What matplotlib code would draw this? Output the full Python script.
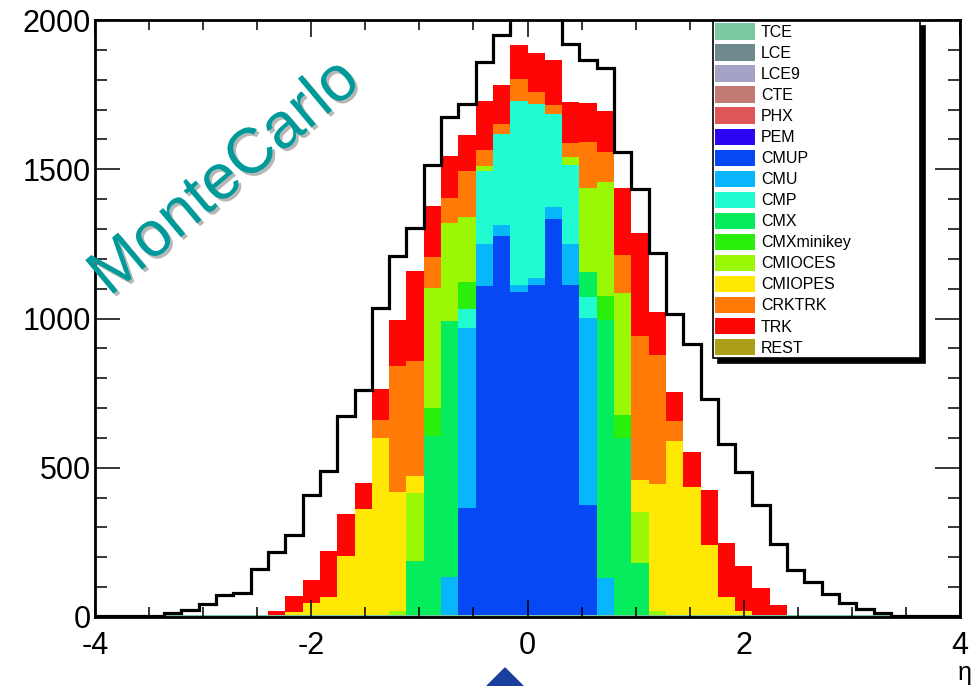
import numpy as np
import matplotlib
matplotlib.use("Agg")
import matplotlib.pyplot as plt
import matplotlib.patheffects as pe
from matplotlib.patches import Patch, Polygon
from matplotlib.ticker import MultipleLocator

plt.rcParams['font.family'] = ['Liberation Sans', 'DejaVu Sans']
plt.rcParams['axes.unicode_minus'] = False

# 50 bins in eta, -4 .. 4
eta_lo, eta_hi, n_bins = -4.0, 4.0, 50

# black outline (all candidates)
total = [2, 2, 3, 4, 12, 25, 44, 74, 79, 161,
         218, 276, 408, 488, 673, 759, 1035, 1208, 1304, 1513,
         1675, 1720, 1860, 1950, 2080, 2120, 2090, 1920, 1866, 1838,
         1558, 1433, 1218, 1014, 915, 730, 580, 487, 374, 243,
         158, 118, 78, 46, 26, 13, 4, 3, 2, 2]

# stacked categories, bottom to top
tce = [0, 0, 0, 0, 6, 6, 6, 6, 6, 6,
       6, 6, 6, 6, 6, 6, 6, 6, 6, 6,
       6, 6, 6, 6, 6, 6, 6, 6, 6, 6,
       6, 6, 6, 6, 6, 6, 6, 6, 6, 6,
       6, 6, 6, 6, 6, 6, 0, 0, 0, 0]
cmup = [0, 0, 0, 0, 0, 0, 0, 0, 0, 0,
        0, 0, 0, 0, 0, 0, 0, 0, 0, 0,
        0, 359, 1102, 1269, 1084, 1105, 1328, 1105, 370, 0,
        0, 0, 0, 0, 0, 0, 0, 0, 0, 0,
        0, 0, 0, 0, 0, 0, 0, 0, 0, 0]
cmu = [0, 0, 0, 0, 0, 0, 0, 0, 0, 0,
       0, 0, 0, 0, 0, 0, 0, 0, 0, 0,
       128, 602, 141, 39, 23, 25, 40, 137, 625, 126,
       0, 0, 0, 0, 0, 0, 0, 0, 0, 0,
       0, 0, 0, 0, 0, 0, 0, 0, 0, 0]
cmp_ = [0, 0, 0, 0, 0, 0, 0, 0, 0, 0,
        0, 0, 0, 0, 0, 0, 0, 0, 0, 0,
        0, 65, 244, 304, 615, 581, 312, 267, 70, 0,
        0, 0, 0, 0, 0, 0, 0, 0, 0, 0,
        0, 0, 0, 0, 0, 0, 0, 0, 0, 0]
cmx = [0, 0, 0, 0, 0, 0, 0, 0, 0, 0,
       0, 0, 0, 0, 0, 0, 0, 0, 182, 600,
       859, 0, 0, 0, 0, 0, 0, 0, 85, 864,
       593, 174, 0, 0, 0, 0, 0, 0, 0, 0,
       0, 0, 0, 0, 0, 0, 0, 0, 0, 0]
cmxminikey = [0, 0, 0, 0, 0, 0, 0, 0, 0, 0,
              0, 0, 0, 0, 0, 0, 0, 0, 0, 93,
              0, 89, 0, 0, 0, 0, 0, 0, 0, 80,
              78, 0, 0, 0, 0, 0, 0, 0, 0, 0,
              0, 0, 0, 0, 0, 0, 0, 0, 0, 0]
cmioces = [0, 0, 0, 0, 0, 0, 0, 0, 0, 0,
           0, 0, 0, 0, 0, 0, 0, 15, 228, 403,
           327, 218, 19, 0, 0, 0, 0, 26, 282, 380,
           408, 173, 15, 0, 0, 0, 0, 0, 0, 0,
           0, 0, 0, 0, 0, 0, 0, 0, 0, 0]
cmiopes = [0, 0, 0, 0, 0, 0, 0, 0, 0, 0,
           0, 10, 40, 60, 197, 356, 595, 397, 58, 0,
           0, 0, 0, 0, 0, 0, 0, 0, 0, 0,
           0, 106, 423, 582, 430, 235, 60, 15, 0, 0,
           0, 0, 0, 0, 0, 0, 0, 0, 0, 0]
crktrk = [0, 0, 0, 0, 0, 0, 0, 0, 0, 0,
          0, 0, 0, 0, 0, 0, 59, 422, 385, 103,
          83, 154, 52, 33, 73, 42, 30, 47, 153, 101,
          128, 481, 434, 67, 0, 0, 0, 0, 0, 0,
          0, 0, 0, 0, 0, 0, 0, 0, 0, 0]
trk = [0, 0, 0, 0, 0, 0, 0, 0, 0, 0,
       15, 56, 77, 156, 141, 87, 105, 154, 301, 173,
       141, 122, 166, 131, 115, 131, 150, 138, 131, 139,
       223, 346, 145, 100, 118, 185, 182, 150, 90, 35,
       0, 0, 0, 0, 0, 0, 0, 0, 0, 0]

legend_names = ["TCE", "LCE", "LCE9", "CTE", "PHX", "PEM", "CMUP", "CMU", "CMP",
                "CMX", "CMXminikey", "CMIOCES", "CMIOPES", "CRKTRK", "TRK", "REST"]
legend_colors = ["#7cc8a2", "#6f8a8e", "#a3a3c6", "#c27a72", "#de5656", "#2a06f2",
                 "#0648f4", "#08b6fb", "#22fbd2", "#05ec5c", "#2aef0c", "#9af806",
                 "#ffe804", "#ff7a06", "#ff0606", "#aba018"]


def run():
    edges = np.linspace(eta_lo, eta_hi, n_bins + 1)
    stack = {"TCE": tce, "CMUP": cmup, "CMU": cmu, "CMP": cmp_, "CMX": cmx,
             "CMXminikey": cmxminikey, "CMIOCES": cmioces, "CMIOPES": cmiopes,
             "CRKTRK": crktrk, "TRK": trk}
    colors = dict(zip(legend_names, legend_colors))

    fig = plt.figure(figsize=(9.77, 6.86), dpi=100)
    ax = fig.add_axes([95 / 977, 69 / 686, 865 / 977, 597 / 686])

    bottom = np.zeros(n_bins)
    for name in legend_names:
        if name not in stack:
            continue
        vals = np.asarray(stack[name], dtype=float)
        ax.stairs(bottom + vals, edges, baseline=bottom.copy(), fill=True,
                  color=colors[name], lw=0)
        bottom += vals

    ax.stairs(total, edges, color="black", lw=2.3, baseline=None)

    ax.set_xlim(eta_lo, eta_hi)
    ax.set_ylim(0, 2000)
    ax.xaxis.set_major_locator(MultipleLocator(2))
    ax.xaxis.set_minor_locator(MultipleLocator(0.5))
    ax.yaxis.set_major_locator(MultipleLocator(500))
    ax.yaxis.set_minor_locator(MultipleLocator(100))
    ax.tick_params(axis="both", which="both", direction="in", top=True, right=True,
                   width=1.1, labelsize=22)
    ax.tick_params(axis="y", which="major", length=18, pad=3)
    ax.tick_params(axis="y", which="minor", length=8.5)
    ax.tick_params(axis="x", which="major", length=12, pad=10)
    ax.tick_params(axis="x", which="minor", length=7)
    for sp in ax.spines.values():
        sp.set_linewidth(2)

    handles = [Patch(facecolor=c, edgecolor="none", label=n)
               for n, c in zip(legend_names, legend_colors)]
    leg = ax.legend(handles=handles, loc="upper left",
                    bbox_to_anchor=(0.7145, 0.4305, 0.2395, 0.568), mode="expand",
                    fontsize=11.5, frameon=True, fancybox=False, framealpha=1,
                    edgecolor="black", borderpad=0.15, labelspacing=0.28,
                    handlelength=2.45, handleheight=1.2, handletextpad=0.4,
                    borderaxespad=0,
                    shadow={"ox": 3.5, "oy": -3.5, "facecolor": "black",
                            "edgecolor": "black", "alpha": 1})
    leg.get_frame().set_linewidth(1.2)

    fig.text(965 / 977, 1 - 673 / 686, "η", fontsize=18, ha="center", va="center")

    mc = fig.text(225 / 977, 1 - 178 / 686, "MonteCarlo", fontsize=46, color="#009a9a",
                  rotation=40, rotation_mode="anchor", ha="center", va="center")
    mc.set_path_effects([pe.SimplePatchShadow(offset=(2, -2), shadow_rgbFace="#999999",
                                              alpha=0.7), pe.Normal()])

    tri = Polygon([(487 / 977, 0), (523 / 977, 0), (505 / 977, 1 - 668 / 686)],
                  closed=True, transform=fig.transFigure, color="#1b3f9c")
    fig.patches.append(tri)

    fig.savefig("out.png", dpi=100)


if __name__ == "__main__":
    run()
